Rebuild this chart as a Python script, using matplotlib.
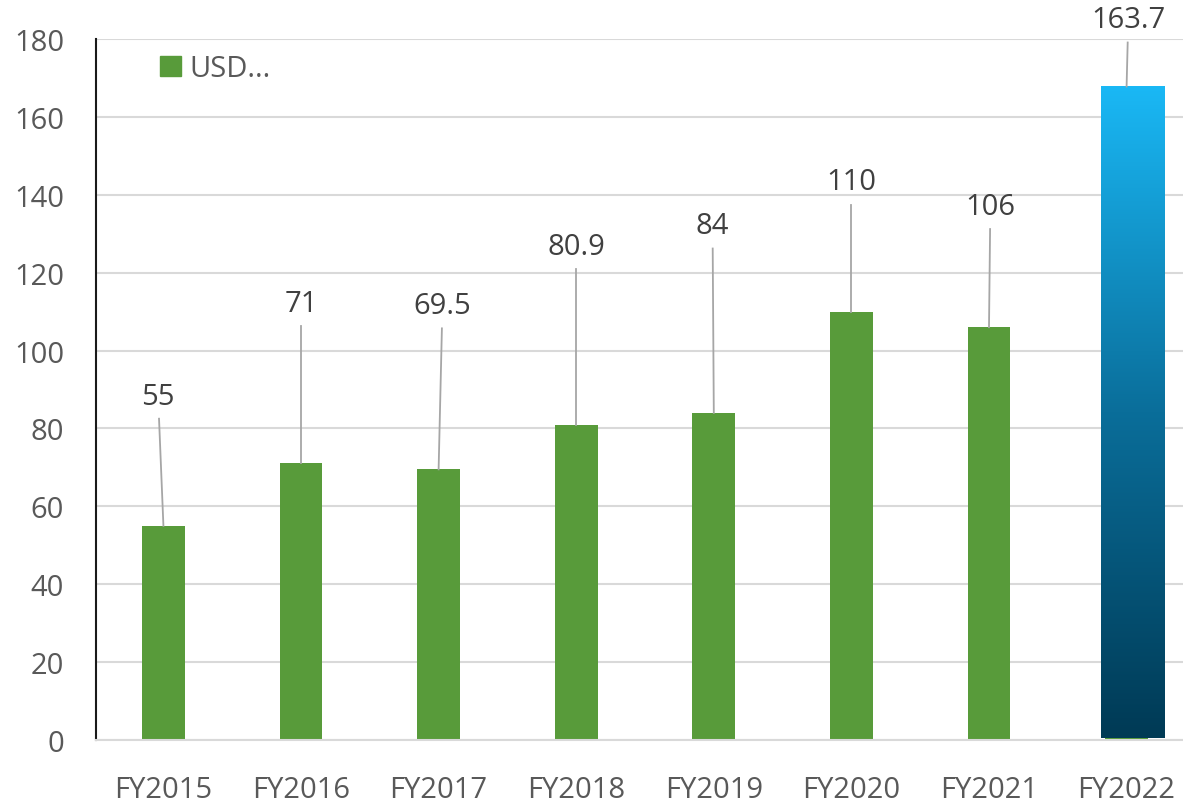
import matplotlib
matplotlib.use("Agg")
import matplotlib.pyplot as plt
import numpy as np
from matplotlib.colors import LinearSegmentedColormap
from matplotlib.patches import Patch

plt.rcParams["font.family"] = ["Open Sans", "DejaVu Sans"]

# data
years = ["FY2015", "FY2016", "FY2017", "FY2018", "FY2019", "FY2020", "FY2021", "FY2022"]
values = [55, 71, 69.5, 80.9, 84, 110, 106, 163.7]
value_labels = ["55", "71", "69.5", "80.9", "84", "110", "106", "163.7"]
highlight_top = 167.8  # drawn height of the gradient FY2022 bar
series_name = "USD..."

# layout of the data labels (data units) and leader-line x offsets
label_y = [88.3, 112.0, 111.5, 126.8, 132.0, 143.3, 137.0, 184.9]
label_dx = [-0.04, 0.0, 0.03, 0.0, -0.01, 0.0, 0.01, 0.01]

green = "#589B3A"
grey_text = "#595959"
grid_col = "#D9D9D9"

fig = plt.figure(figsize=(11.83, 8.03), dpi=100)
ax = fig.add_axes([96 / 1183, 62 / 803, 1087 / 1183, 701 / 803])

x = np.arange(len(years))
ax.bar(x, values, width=0.31, color=green, zorder=2)

# gradient overlay for the last bar
cmap = LinearSegmentedColormap.from_list("hl", ["#003A55", "#0A6E9A", "#1AB8F5"])
bx = x[-1] + 0.046
bw = 0.465
grad = np.linspace(0, 1, 256).reshape(-1, 1)
ax.imshow(grad, cmap=cmap, origin="lower", aspect="auto",
          extent=(bx - bw / 2, bx + bw / 2, 0.5, highlight_top), zorder=3)

# labels with leader lines
tops = list(values[:-1]) + [highlight_top]
for i, (lab, ly, dx, top) in enumerate(zip(value_labels, label_y, label_dx, tops)):
    ax.text(i + dx, ly, lab, ha="center", va="center", fontsize=21,
            color="#404040", zorder=5, clip_on=False)
    ax.plot([i + dx * 0.8, i], [ly - 5.8, top], color="#A6A6A6", lw=1.3, zorder=4,
            clip_on=False)

ax.set_xlim(-0.49, 7.41)
ax.set_ylim(0, 180)
ax.set_yticks(np.arange(0, 181, 20))
ax.set_xticks(x)
ax.set_xticklabels(years)
ax.tick_params(axis="both", length=0, labelsize=21, labelcolor=grey_text)
ax.tick_params(axis="x", pad=25)
ax.tick_params(axis="y", pad=23)
ax.grid(axis="y", color=grid_col, lw=1.5, zorder=0)
ax.set_axisbelow(True)
for s in ["top", "right"]:
    ax.spines[s].set_visible(False)
ax.spines["bottom"].set_color(grid_col)
ax.spines["bottom"].set_linewidth(1.5)
ax.spines["left"].set_color("#1a1a1a")
ax.spines["left"].set_linewidth(1.5)

ax.legend(handles=[Patch(color=green, label=series_name)], loc="upper left",
          bbox_to_anchor=(0.035, 1.016), frameon=False, fontsize=21,
          handlelength=0.7, handleheight=0.7, handletextpad=0.3,
          labelcolor=grey_text)

fig.savefig("out.png", dpi=100)
